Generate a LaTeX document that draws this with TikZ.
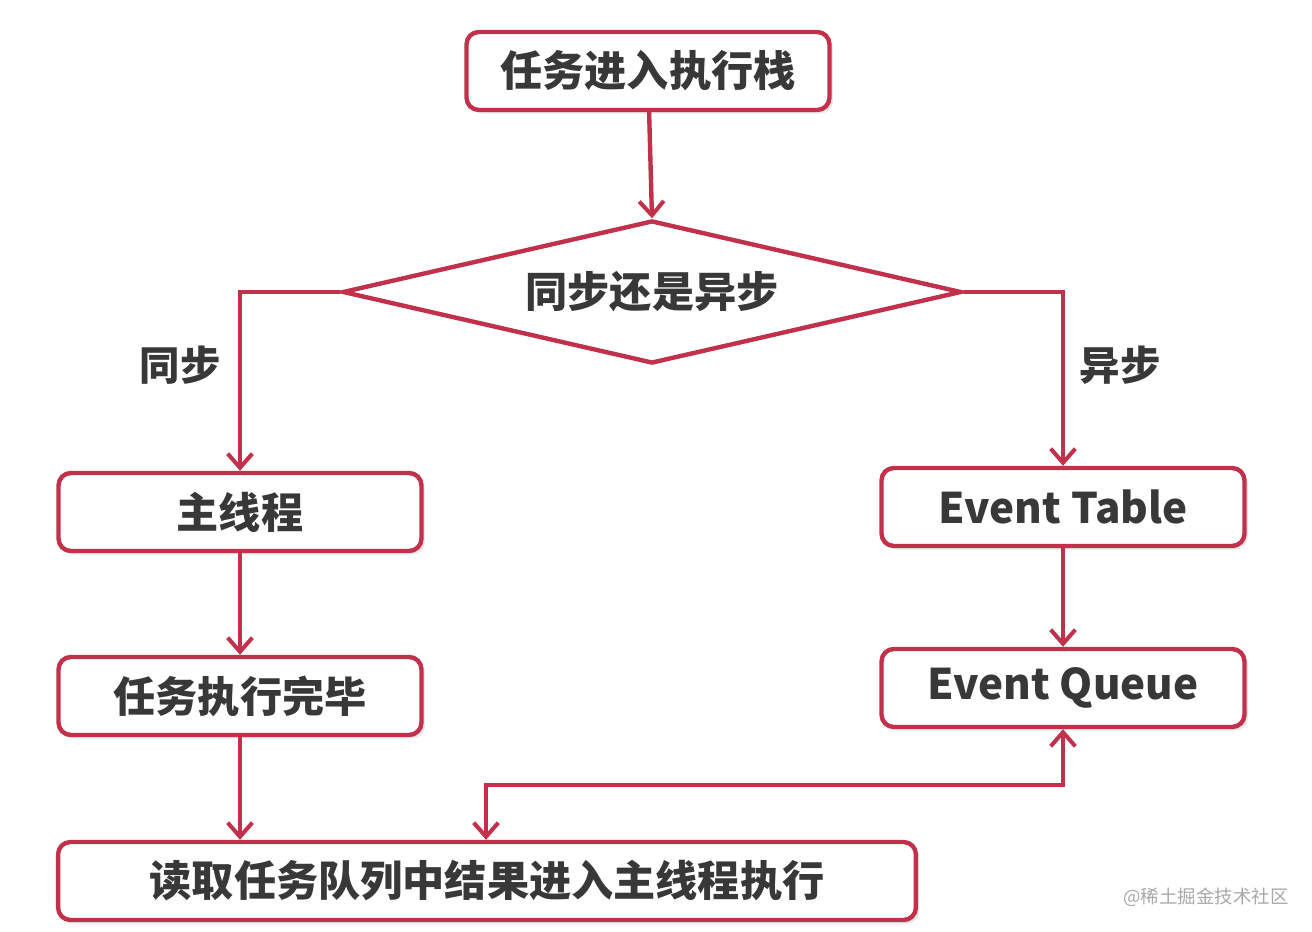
\documentclass[tikz,border=0pt]{standalone}
\usepackage{fontspec}
\usepackage{xcolor}
\usepackage{tikz}
\usetikzlibrary{shapes.geometric,arrows.meta,shadows}
\setmainfont{Noto Sans CJK SC}
\definecolor{edge}{HTML}{C1314B}
\definecolor{ink}{HTML}{383838}
\definecolor{mark}{HTML}{A8A8A8}

\begin{document}
\begin{tikzpicture}[x=0.02cm,y=-0.02cm,
  box/.style={draw=edge, line width=2.5pt, rounded corners=7pt, fill=white,
    minimum width=7.26cm, minimum height=1.56cm, text=ink,
    font=\fontsize{24}{27}\selectfont\bfseries,
    drop shadow={shadow xshift=2pt, shadow yshift=-2pt, opacity=0.18}},
  choice/.style={diamond, draw=edge, line width=2.5pt, fill=white, aspect=4.33,
    inner sep=0pt, minimum width=12.38cm, minimum height=2.86cm, text=ink,
    font=\fontsize{24}{27}\selectfont\bfseries},
  tag/.style={text=ink, font=\fontsize{23}{26}\selectfont\bfseries},
  flow/.style={draw=edge, line width=2.5pt, -{Straight Barb[length=8pt,width=14pt,line width=2.3pt]}}]
\useasboundingbox (0,0) rectangle (1312,932);

% Boxes
\node[box] (stack) at (648,71) {任务进入执行栈};
\node[choice] (sync) at (652,292) {同步还是异步};
\node[box] (main) at (240,512) {主线程};
\node[box] (done) at (240,696) {任务执行完毕};
\node[box] (table) at (1063,507) {Event Table};
\node[box] (queue) at (1063,688) {Event Queue};
\node[box, minimum width=17.16cm] (read) at (487,881) {读取任务队列中结果进入主线程执行};

% Branch labels
\node[tag] (lsync) at (180,365) {同步};
\node[tag] (lasync) at (1120,365) {异步};

% Connectors
\coordinate (up) at (486,785);
\draw[flow] (stack) -- (sync.north);
\draw[flow] (sync.west) -| (main.north);
\draw[flow] (sync.east) -| (table.north);
\draw[flow] (main) -- (done);
\draw[flow] (done) -- (read.north -| done);
\draw[flow] (table) -- (queue);
\draw[flow, {Straight Barb[length=8pt,width=14pt,line width=2.3pt]}-{Straight Barb[length=8pt,width=14pt,line width=2.3pt]}]
  (read.north -| up) -- (up) -| (queue.south);

% Watermark
\node[text=mark, font=\fontsize{10.5}{12}\selectfont] (wm) at (1206,897) {@稀土掘金技术社区};
\end{tikzpicture}
\end{document}
